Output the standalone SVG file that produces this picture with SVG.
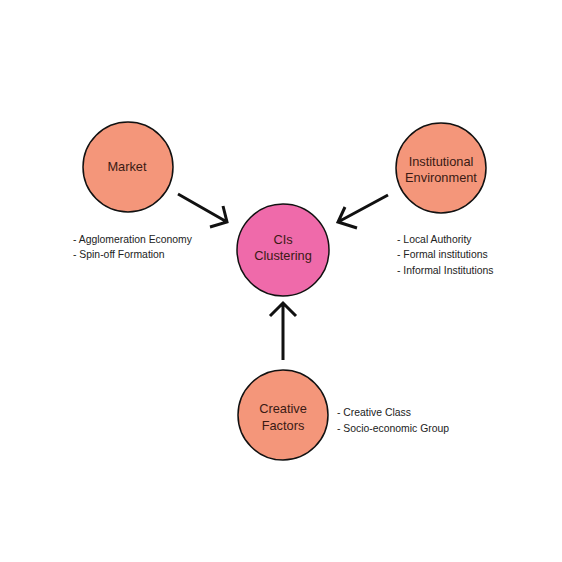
<svg xmlns="http://www.w3.org/2000/svg" width="562" height="562" viewBox="0 0 562 562">
<style>
.node{fill:#F4967A;stroke:#111;stroke-width:1.5}
.center{fill:#EF6AAA;stroke:#111;stroke-width:1.5}
.lbl{font-family:"Liberation Sans",Arial,sans-serif;font-size:12.8px;fill:#3a1a14;text-anchor:middle}
.note{font-family:"Liberation Sans",Arial,sans-serif;font-size:10.4px;fill:#222}
.arr{fill:none;stroke:#111;stroke-width:3;stroke-linecap:butt;stroke-linejoin:miter}
</style>
<rect width="562" height="562" fill="#fff"/>
<g id="connectors">
<path class="arr" d="M178,194 L227,222 M223,206 L227,222 L210,227"/>
<path class="arr" d="M388,195 L338,222 M345,207 L338,222 L357,228"/>
<path class="arr" d="M283,360 L283,303 M270,316 L283,303 L296,316"/>
</g>
<g id="market">
<circle class="node" cx="128" cy="167" r="45"/>
<text class="lbl" x="127" y="171">Market</text>
<text class="note" x="73" y="243">- Agglomeration Economy</text>
<text class="note" x="73" y="258">- Spin-off Formation</text>
</g>
<g id="institutional">
<circle class="node" cx="441" cy="168" r="45"/>
<text class="lbl" x="441" y="166">Institutional</text>
<text class="lbl" x="441" y="182">Environment</text>
<text class="note" x="397" y="243">- Local Authority</text>
<text class="note" x="397" y="258">- Formal institutions</text>
<text class="note" x="397" y="274">- Informal Institutions</text>
</g>
<g id="cis">
<circle class="center" cx="283" cy="250" r="46"/>
<text class="lbl" x="283" y="244">CIs</text>
<text class="lbl" x="283" y="260">Clustering</text>
</g>
<g id="creative">
<circle class="node" cx="283" cy="415" r="45"/>
<text class="lbl" x="283" y="413">Creative</text>
<text class="lbl" x="283" y="430">Factors</text>
<text class="note" x="337" y="416">- Creative Class</text>
<text class="note" x="337" y="432">- Socio-economic Group</text>
</g>
</svg>
